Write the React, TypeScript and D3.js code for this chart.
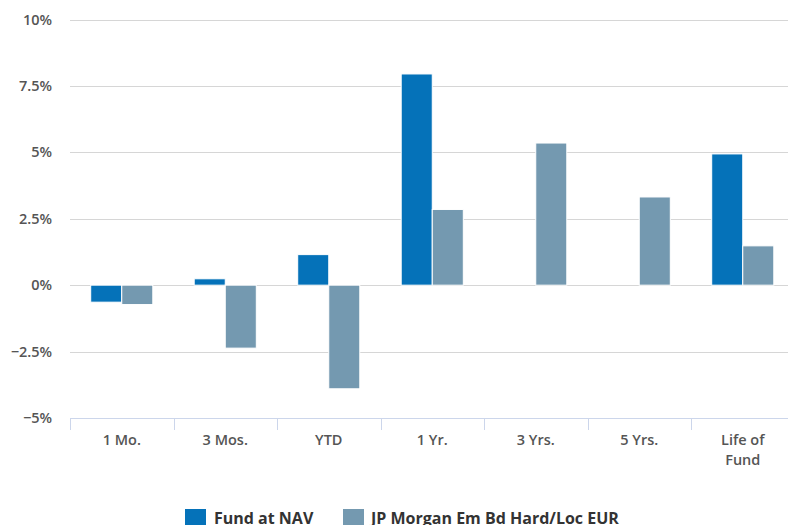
import React from "react";
import * as d3 from "d3";

const categories = ["1 Mo.", "3 Mos.", "YTD", "1 Yr.", "3 Yrs.", "5 Yrs.", "Life of Fund"];
const seriesNames = ["Fund at NAV", "JP Morgan Em Bd Hard/Loc EUR"];
const fundValues: (number | null)[] = [-0.64, 0.24, 1.15, 7.95, null, null, 4.94];
const benchValues: (number | null)[] = [-0.73, -2.37, -3.9, 2.85, 5.35, 3.32, 1.48];
const yTicks = [-5, -2.5, 0, 2.5, 5, 7.5, 10];
const colors = ["#0572b9", "#7499b0"];

const W = 788;
const H = 525;
const left = 70;
const right = 794.5;
const top = 19.5;
const bottom = 418;

export default function App() {
  const x = d3.scaleBand<string>().domain(categories).range([left, right]).paddingInner(0).paddingOuter(0);
  // two bars take 60% of each category, 20% gap each side
  const inner = d3.scaleBand<number>().domain([0, 1]).range([0, x.bandwidth()]).paddingInner(0).paddingOuter(2 / 3);
  const y = d3.scaleLinear().domain([-5, 10]).range([bottom, top]);
  const series = [fundValues, benchValues];
  const fmt = (v: number) => (v < 0 ? "\u2212" + Math.abs(v) : String(v)) + "%";
  const font = "'Open Sans', 'DejaVu Sans', sans-serif";

  const legendItems = [
    { x: 185, textX: 214 },
    { x: 343, textX: 371 },
  ];

  return (
    <div style={{ position: "absolute", left: 0, top: 0 }}>
      <svg width={W} height={H} style={{ display: "block", fontFamily: font }}>
        <rect width={W} height={H} fill="#fff" />
        {yTicks.map((t) =>
          t === -5 ? null : (
            <line key={t} x1={left} x2={W} y1={Math.round(y(t)) + 0.5} y2={Math.round(y(t)) + 0.5} stroke="#d6d6d6" strokeWidth={1} />
          )
        )}
        {yTicks.map((t) => (
          <text key={"l" + t} x={52} y={y(t) + 5} textAnchor="end" fontSize={14.5} fontWeight={600} fill="#555">
            {fmt(t)}
          </text>
        ))}
        {series.map((vals, si) =>
          vals.map((v, i) => {
            if (v === null) return null;
            const bx = (x(categories[i]) as number) + (inner(si) as number);
            const y0 = y(0);
            const y1 = y(v);
            return (
              <rect
                key={si + "-" + i}
                x={bx}
                y={Math.min(y0, y1)}
                width={inner.bandwidth()}
                height={Math.abs(y1 - y0)}
                fill={colors[si]}
                stroke="#fff"
                strokeWidth={1}
              />
            );
          })
        )}
        <line x1={left} x2={W} y1={bottom + 0.5} y2={bottom + 0.5} stroke="#ccd6eb" strokeWidth={1} />
        {d3.range(categories.length + 1).map((i) => {
          const tx = Math.round(left + i * x.step()) + 0.5;
          return <line key={"t" + i} x1={tx} x2={tx} y1={bottom} y2={bottom + 12} stroke="#ccd6eb" strokeWidth={1} />;
        })}
        {categories.map((c) => {
          const cx = (x(c) as number) + x.bandwidth() / 2;
          const lines = c === "Life of Fund" ? ["Life of", "Fund"] : [c];
          return (
            <text key={c} x={cx} y={445} textAnchor="middle" fontSize={14.5} fontWeight={600} fill="#555">
              {lines.map((l, k) => (
                <tspan key={k} x={cx} dy={k === 0 ? 0 : 20}>
                  {l}
                </tspan>
              ))}
            </text>
          );
        })}
        {legendItems.map((it, i) => (
          <g key={"lg" + i}>
            <rect x={it.x} y={509} width={21} height={18} fill={colors[i]} />
            <text x={it.textX} y={524} fontSize={16} fontWeight={700} fill="#333">
              {seriesNames[i]}
            </text>
          </g>
        ))}
      </svg>
    </div>
  );
}
